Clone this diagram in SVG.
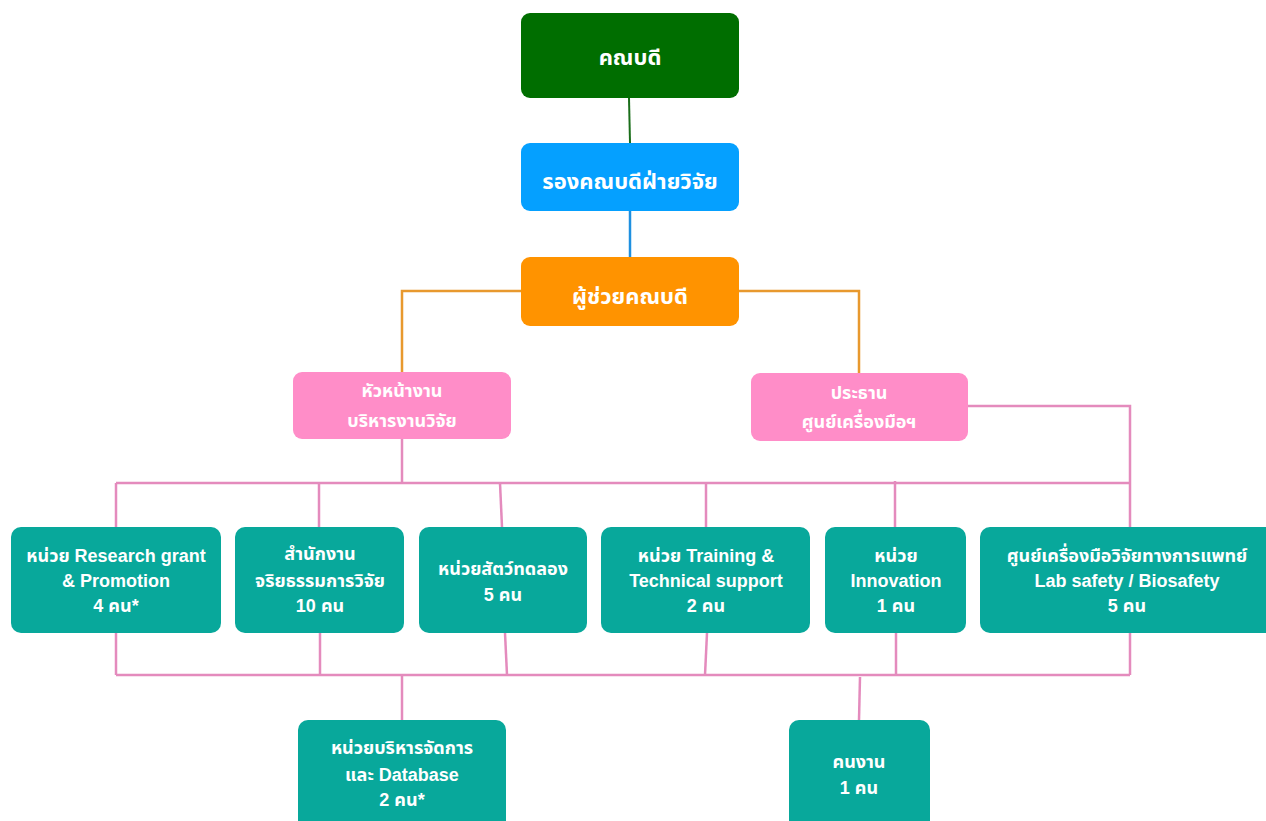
<svg xmlns="http://www.w3.org/2000/svg" width="1266" height="821" viewBox="0 0 1266 821">
<style>
text{font-family:"Liberation Sans","Noto Sans Thai","Noto Sans","DejaVu Sans",sans-serif;font-weight:bold;fill:#fff;text-anchor:middle}
.big{font-size:22px}
.mid{font-size:18px}
.sm{font-size:18px}
.teal{fill:#08a89b}
.pink{fill:#ff8dc8}
.pl{stroke:#e48bbd;stroke-width:2.5;fill:none}
</style>
<rect width="1266" height="821" fill="#fff"/>
<g id="connectors">
<line x1="629" y1="98" x2="630" y2="143" stroke="#1a6e1a" stroke-width="2"/>
<line x1="630" y1="211" x2="630" y2="257" stroke="#1e90e0" stroke-width="2.5"/>
<polyline points="521,291 402,291 402,372" stroke="#e8992e" stroke-width="2.5" fill="none"/>
<polyline points="739,291 859,291 859,373" stroke="#e8992e" stroke-width="2.5" fill="none"/>
<line class="pl" x1="402" y1="439" x2="402" y2="483"/>
<polyline class="pl" points="968,406 1130,406 1130,527"/>
<line class="pl" x1="116" y1="483" x2="1130" y2="483"/>
<line class="pl" x1="116" y1="483" x2="116" y2="527"/>
<line class="pl" x1="319" y1="483" x2="319" y2="527"/>
<line class="pl" x1="500" y1="483" x2="502" y2="527"/>
<line class="pl" x1="706" y1="483" x2="706" y2="527"/>
<line class="pl" x1="895" y1="481" x2="895" y2="527"/>
<line class="pl" x1="116" y1="675" x2="1130" y2="675"/>
<line class="pl" x1="116" y1="633" x2="116" y2="675"/>
<line class="pl" x1="320" y1="633" x2="320" y2="675"/>
<line class="pl" x1="505" y1="633" x2="507" y2="675"/>
<line class="pl" x1="707" y1="633" x2="705" y2="675"/>
<line class="pl" x1="896" y1="633" x2="896" y2="675"/>
<line class="pl" x1="1130" y1="633" x2="1130" y2="675"/>
<line class="pl" x1="402" y1="675" x2="402" y2="720"/>
<line class="pl" x1="860" y1="677" x2="859" y2="720"/>
</g>
<g id="n-dean"><rect x="521" y="13" width="218" height="85" rx="9" fill="#006e00"/><text class="big" x="630" y="65">คณบดี</text></g>
<g id="n-assocdean"><rect x="521" y="143" width="218" height="68" rx="9" fill="#05a0ff"/><text class="big" x="630" y="189">รองคณบดีฝ่ายวิจัย</text></g>
<g id="n-assistant"><rect x="521" y="257" width="218" height="69" rx="9" fill="#ff9300"/><text class="big" x="630" y="304">ผู้ช่วยคณบดี</text></g>
<g id="n-head"><rect class="pink" x="293" y="372" width="218" height="67" rx="9"/><text class="mid" x="402" y="397">หัวหน้างาน</text><text class="mid" x="402" y="427">บริหารงานวิจัย</text></g>
<g id="n-chair"><rect class="pink" x="751" y="373" width="217" height="68" rx="9"/><text class="mid" x="859" y="399">ประธาน</text><text class="mid" x="859" y="428">ศูนย์เครื่องมือฯ</text></g>
<g id="n-grant"><rect class="teal" x="11" y="527" width="210" height="106" rx="10"/><text class="sm" x="116" y="562">หน่วย Research grant</text><text class="sm" x="116" y="587">&amp; Promotion</text><text class="sm" x="116" y="612">4 คน*</text></g>
<g id="n-ethics"><rect class="teal" x="235" y="527" width="169" height="106" rx="10"/><text class="sm" x="320" y="560">สำนักงาน</text><text class="sm" x="320" y="587">จริยธรรมการวิจัย</text><text class="sm" x="320" y="612">10 คน</text></g>
<g id="n-animal"><rect class="teal" x="419" y="527" width="168" height="106" rx="10"/><text class="sm" x="503" y="575">หน่วยสัตว์ทดลอง</text><text class="sm" x="503" y="601">5 คน</text></g>
<g id="n-training"><rect class="teal" x="601" y="527" width="209" height="106" rx="10"/><text class="sm" x="706" y="562">หน่วย Training &amp;</text><text class="sm" x="706" y="587">Technical support</text><text class="sm" x="706" y="612">2 คน</text></g>
<g id="n-innov"><rect class="teal" x="825" y="527" width="141" height="106" rx="10"/><text class="sm" x="896" y="562">หน่วย</text><text class="sm" x="896" y="587">Innovation</text><text class="sm" x="896" y="612">1 คน</text></g>
<g id="n-center"><rect class="teal" x="980" y="527" width="296" height="106" rx="10"/><text class="sm" x="1127" y="562">ศูนย์เครื่องมือวิจัยทางการแพทย์</text><text class="sm" x="1127" y="587">Lab safety / Biosafety</text><text class="sm" x="1127" y="612">5 คน</text></g>
<g id="n-admin"><rect class="teal" x="298" y="720" width="208" height="115" rx="10"/><text class="sm" x="402" y="754">หน่วยบริหารจัดการ</text><text class="sm" x="402" y="781">และ Database</text><text class="sm" x="402" y="806">2 คน*</text></g>
<g id="n-worker"><rect class="teal" x="789" y="720" width="141" height="115" rx="10"/><text class="sm" x="859" y="768">คนงาน</text><text class="sm" x="859" y="794">1 คน</text></g>
</svg>
